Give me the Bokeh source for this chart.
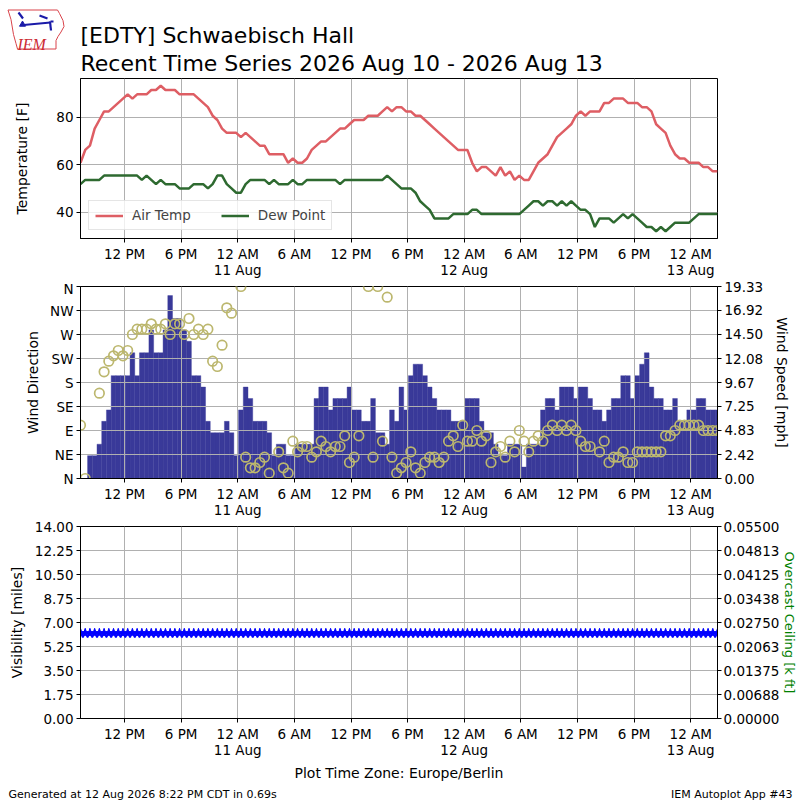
import pandas as pd
from bokeh.plotting import figure
from bokeh.layouts import column
from bokeh.models import Range1d, LinearAxis, FixedTicker, Legend, LegendItem
from bokeh.embed import file_html
from bokeh.resources import INLINE
from bokeh.core.properties import value

# ---------------- data ----------------
first_obs = "2026-08-10 07:20"
n_obs = 136

air_temp = [
    60.8, 66.2, 68, 75.2, 78.8, 82.4, 82.4, 84.2, 86, 87.8,
    89.6, 87.8, 89.6, 89.6, 89.6, 91.4, 91.4, 93.2, 91.4, 91.4,
    91.4, 89.6, 89.6, 89.6, 89.6, 87.8, 86, 84.2, 80.6, 78.8,
    75.2, 73.4, 73.4, 73.4, 71.6, 73.4, 71.6, 69.8, 68, 68,
    64.4, 64.4, 64.4, 64.4, 60.8, 62.6, 60.8, 60.8, 62.6, 66.2,
    68, 69.8, 69.8, 71.6, 73.4, 75.2, 75.2, 77, 78.8, 78.8,
    78.8, 80.6, 80.6, 80.6, 82.4, 84.2, 82.4, 84.2, 84.2, 82.4,
    82.4, 80.6, 80.6, 78.8, 77, 75.2, 73.4, 71.6, 69.8, 68,
    66.2, 66.2, 66.2, 60.8, 57.2, 59, 59, 57.2, 55.4, 59,
    55.4, 57.2, 53.6, 55.4, 53.6, 53.6, 57.2, 60.8, 62.6, 64.4,
    68, 71.6, 73.4, 75.2, 77, 80.6, 82.4, 80.6, 82.4, 82.4,
    82.4, 86, 86, 87.8, 87.8, 87.8, 86, 86, 86, 84.2,
    84.2, 82.4, 77, 75.2, 73.4, 68, 64.4, 62.6, 62.6, 60.8,
    60.8, 60.8, 59, 59, 57.2, 57.2,
]

dew_point = [
    51.8, 53.6, 53.6, 53.6, 53.6, 55.4, 55.4, 55.4, 55.4, 55.4,
    55.4, 55.4, 55.4, 53.6, 55.4, 53.6, 51.8, 53.6, 51.8, 51.8,
    51.8, 50, 50, 50, 51.8, 51.8, 51.8, 50, 51.8, 55.4,
    55.4, 51.8, 50, 48.2, 48.2, 51.8, 53.6, 53.6, 53.6, 53.6,
    51.8, 53.6, 51.8, 51.8, 51.8, 53.6, 51.8, 51.8, 53.6, 53.6,
    53.6, 53.6, 53.6, 53.6, 53.6, 51.8, 53.6, 53.6, 53.6, 53.6,
    53.6, 53.6, 53.6, 53.6, 53.6, 55.4, 53.6, 51.8, 50, 50,
    50, 48.2, 44.6, 42.8, 41, 37.4, 37.4, 37.4, 37.4, 39.2,
    39.2, 39.2, 39.2, 41, 41, 39.2, 39.2, 39.2, 39.2, 39.2,
    39.2, 39.2, 39.2, 39.2, 41, 42.8, 44.6, 44.6, 42.8, 44.6,
    44.6, 42.8, 44.6, 42.8, 44.6, 42.8, 41, 41, 39.2, 33.8,
    37.4, 37.4, 37.4, 35.6, 37.4, 39.2, 37.4, 39.2, 37.4, 35.6,
    33.8, 33.8, 32, 33.8, 32, 33.8, 35.6, 35.6, 35.6, 35.6,
    37.4, 39.2, 39.2, 39.2, 39.2, 39.2,
]

# wind speed in knots (plotted in mph)
wind_kt = [
    0, 0, 2, 2, 3, 5, 6, 9, 9, 9,
    9, 11, 9, 11, 11, 13, 11, 11, 13, 16,
    14, 14, 13, 12, 9, 9, 8, 5, 4, 4,
    4, 5, 4, 2, 6, 8, 7, 5, 5, 5,
    4, 2, 3, 3, 2, 2, 3, 3, 3, 3,
    7, 8, 8, 6, 7, 7, 7, 8, 6, 6,
    5, 5, 7, 4, 4, 3, 6, 5, 8, 6,
    9, 10, 10, 9, 8, 7, 6, 6, 6, 5,
    5, 5, 7, 7, 7, 5, 4, 4, 3, 2,
    2, 3, 3, 3, 1, 3, 3, 3, 6, 7,
    7, 6, 8, 8, 8, 7, 8, 8, 7, 6,
    6, 5, 6, 7, 7, 9, 9, 7, 9, 10,
    11, 8, 7, 7, 6, 6, 7, 5, 5, 6,
    6, 7, 7, 6, 6, 6,
]

nan = float("nan")
wind_dir = [
    100, 0, nan, nan, 160, 200, 220, 230, 240, 230,
    240, 270, 280, 280, 280, 290, 280, 280, 290, 270,
    290, 290, 270, 300, 270, 280, 270, 280, 220, 210,
    250, 320, 310, nan, 360, 40, 20, 20, 30, 40,
    10, nan, 50, 20, 10, 70, 50, 60, 60, 40,
    50, 70, 60, 50, 60, 60, 80, 30, 40, 80,
    nan, 360, 40, 360, 70, 340, 40, 10, 20, 30,
    50, 20, 10, 30, 40, 40, 30, 40, 70, 80,
    60, 100, 70, 70, 90, 70, 80, 30, 50, 60,
    40, 70, 50, 90, 70, 50, 70, 80, 70, 90,
    100, 90, 100, 90, 100, 90, 70, 60, 60, nan,
    50, 70, 30, 40, 40, 50, 30, 30, 50, 50,
    50, 50, 50, 50, 80, 80, 90, 100, 100, 100,
    100, 100, 90, 90, 90, 90,
]

visibility = [
    6.21, 6.21, 6.21, 6.21, 6.21, 6.21, 6.21, 6.21, 6.21, 6.21,
    6.21, 6.21, 6.21, 6.21, 6.21, 6.21, 6.21, 6.21, 6.21, 6.21,
    6.21, 6.21, 6.21, 6.21, 6.21, 6.21, 6.21, 6.21, 6.21, 6.21,
    6.21, 6.21, 6.21, 6.21, 6.21, 6.21, 6.21, 6.21, 6.21, 6.21,
    6.21, 6.21, 6.21, 6.21, 6.21, 6.21, 6.21, 6.21, 6.21, 6.21,
    6.21, 6.21, 6.21, 6.21, 6.21, 6.21, 6.21, 6.21, 6.21, 6.21,
    6.21, 6.21, 6.21, 6.21, 6.21, 6.21, 6.21, 6.21, 6.21, 6.21,
    6.21, 6.21, 6.21, 6.21, 6.21, 6.21, 6.21, 6.21, 6.21, 6.21,
    6.21, 6.21, 6.21, 6.21, 6.21, 6.21, 6.21, 6.21, 6.21, 6.21,
    6.21, 6.21, 6.21, 6.21, 6.21, 6.21, 6.21, 6.21, 6.21, 6.21,
    6.21, 6.21, 6.21, 6.21, 6.21, 6.21, 6.21, 6.21, 6.21, 6.21,
    6.21, 6.21, 6.21, 6.21, 6.21, 6.21, 6.21, 6.21, 6.21, 6.21,
    6.21, 6.21, 6.21, 6.21, 6.21, 6.21, 6.21, 6.21, 6.21, 6.21,
    6.21, 6.21, 6.21, 6.21, 6.21, 6.21,
]

tick_times = [
    "2026-08-10 12:00", "2026-08-10 18:00", "2026-08-11 00:00", "2026-08-11 06:00",
    "2026-08-11 12:00", "2026-08-11 18:00", "2026-08-12 00:00", "2026-08-12 06:00",
    "2026-08-12 12:00", "2026-08-12 18:00", "2026-08-13 00:00",
]
tick_labels = [
    "12 PM", "6 PM", "12 AM\n11 Aug", "6 AM", "12 PM", "6 PM", "12 AM\n12 Aug",
    "6 AM", "12 PM", "6 PM", "12 AM\n13 Aug",
]
temp_ticks = [40, 60, 80]
dir_ticks = [0, 45, 90, 135, 180, 225, 270, 315, 360]
dir_labels = ["N", "NE", "E", "SE", "S", "SW", "W", "NW", "N"]
speed_max = 19.33
speed_ticks = [0, 2.416, 4.833, 7.249, 9.665, 12.081, 14.498, 16.914, 19.33]
speed_labels = ["0.00", "2.42", "4.83", "7.25", "9.67", "12.08", "14.50", "16.92", "19.33"]
vis_ticks = [0, 1.75, 3.5, 5.25, 7.0, 8.75, 10.5, 12.25, 14.0]
vis_labels = ["0.00", "1.75", "3.50", "5.25", "7.00", "8.75", "10.50", "12.25", "14.00"]
ceil_max = 0.055
ceil_ticks = [0, 0.006875, 0.01375, 0.020625, 0.0275, 0.034375, 0.04125, 0.048125, 0.055]
ceil_labels = ["0.00000", "0.00688", "0.01375", "0.02063", "0.02750", "0.03438",
               "0.04125", "0.04813", "0.05500"]

title_1 = "[EDTY] Schwaebisch Hall"
title_2 = "Recent Time Series 2026 Aug 10 - 2026 Aug 13"
footer_left = "Generated at 12 Aug 2026 8:22 PM CDT in 0.69s"
footer_right = "IEM Autoplot App #43"

# ---------------- derived ----------------
times = pd.date_range(first_obs, periods=n_obs, freq="30min")
wind_mph = [k * 1.15078 for k in wind_kt]
tick_ms = [int(pd.Timestamp(t).value // 10**6) for t in tick_times]
x_overrides = dict(zip(tick_ms, tick_labels))

FONT = "DejaVu Sans"
W = 800
LB, RB = 80, 80
TEMP_C = "#de5e64"
DEW_C = "#2e6a30"
BAR_C = "#393999"
DIR_C = "#bcb76e"
GRID_C = "#b0b0b0"
FRAME_H = 192  # frame height of the wind and visibility panels

xr = Range1d(times[0], times[-1])


def style(p):
    p.background_fill_color = "white"
    p.border_fill_color = "white"
    p.outline_line_color = "black"
    p.outline_line_width = 1
    p.grid.grid_line_color = GRID_C
    p.grid.grid_line_width = 1
    for ax in list(p.xaxis) + list(p.yaxis):
        ax.axis_line_color = "black"
        ax.major_tick_out = 4
        ax.major_tick_in = 0
        ax.minor_tick_line_color = None
        ax.major_label_text_font = FONT
        ax.major_label_text_font_size = "13.5px"
        ax.major_label_text_color = "black"
        ax.major_label_text_line_height = 1.0
        ax.major_label_standoff = 3
        ax.axis_label_text_font = FONT
        ax.axis_label_text_font_size = "14px"
        ax.axis_label_text_font_style = "normal"
        ax.axis_label_text_color = "black"


def time_axis(p):
    t = FixedTicker(ticks=tick_ms)
    p.xaxis.ticker = t
    p.xgrid.ticker = t
    p.xaxis.major_label_overrides = x_overrides


def blank(h, y0):
    f = figure(width=W, height=h, x_range=Range1d(0, W), y_range=Range1d(y0 + h, y0),
               toolbar_location=None, output_backend="svg", min_border=0,
               x_axis_location=None, y_axis_location=None)
    f.grid.visible = False
    f.outline_line_color = None
    f.background_fill_color = "white"
    f.border_fill_color = "white"
    f.frame_align = False
    return f


# ---------------- header ----------------
hdr = blank(76, 0)
hdr.text(x=[80], y=[35], text=[title_1], text_font=value(FONT), text_font_size="22px",
         text_baseline="alphabetic", text_color="black")
hdr.text(x=[80], y=[63], text=[title_2], text_font=value(FONT), text_font_size="22px",
         text_baseline="alphabetic", text_color="black")
# IEM logo (Iowa outline, weather vane, letters)
logo_x = [7.5, 57, 59, 62.5, 63.5, 60.5, 57.5, 55.5, 55.5, 17, 15.5, 13, 10.5, 7.5]
logo_y = [9.5, 9.5, 13, 20, 26, 31.5, 36, 40, 48.5, 48.5, 43, 34, 19, 9.5]
hdr.patch(logo_x, logo_y, fill_color="white", line_color="#d9434b", line_width=1)
hdr.multi_line(xs=[[23, 50], [49.5, 50.5], [18, 22.5], [39, 47], [50, 53]],
               ys=[[24.5, 22], [21, 30], [12, 18], [15, 18], [21, 21]],
               line_color="#1a1aa8", line_width=2.2)
hdr.scatter([22], [24], marker="triangle", size=6, color="#1a1aa8")
hdr.text(x=[17], y=[44], text=["IEM"], text_font=value("Liberation Serif"), text_font_size="16px",
         text_font_style="italic", text_color="#cc2a33", text_baseline="alphabetic")

# ---------------- panel 1: temperature ----------------
p1 = figure(width=W, height=204, x_range=xr, y_range=Range1d(28.94, 96.26),
            x_axis_type="datetime", toolbar_location=None, output_backend="svg",
            min_border_left=LB, min_border_right=RB, min_border_top=2, min_border_bottom=42)
r_air = p1.line(times, air_temp, line_color=TEMP_C, line_width=2.5)
r_dew = p1.line(times, dew_point, line_color=DEW_C, line_width=2.5)
p1.yaxis.ticker = FixedTicker(ticks=temp_ticks)
p1.ygrid.ticker = FixedTicker(ticks=temp_ticks)
p1.yaxis.axis_label = "Temperature [F]"
time_axis(p1)
style(p1)
p1.yaxis.axis_label_standoff = 23
leg = Legend(items=[LegendItem(label="Air Temp", renderers=[r_air]),
                    LegendItem(label="Dew Point", renderers=[r_dew])],
             location="bottom_left", orientation="horizontal", margin=8, padding=6,
             spacing=30, glyph_width=28, glyph_height=15, label_standoff=9,
             label_text_font=FONT, label_text_font_size="13.5px",
             border_line_color="#cccccc", background_fill_alpha=0.8)
p1.add_layout(leg)

# ---------------- panel 2: wind ----------------
p2 = figure(width=W, height=6 + FRAME_H + 42, x_range=xr, y_range=Range1d(0, 360),
            x_axis_type="datetime", toolbar_location=None, output_backend="svg",
            min_border_left=LB, min_border_right=RB, min_border_top=6, min_border_bottom=42)
p2.extra_y_ranges = {"speed": Range1d(0, speed_max)}
bars = p2.vbar(x=times, top=wind_mph, width=30 * 60 * 1000, y_range_name="speed",
               fill_color=BAR_C, line_color=BAR_C, line_width=0.4)
bars.level = "image"
p2.scatter(times, wind_dir, marker="circle", size=9.5, fill_color=None,
           line_color=DIR_C, line_width=1.7)
p2.yaxis.ticker = FixedTicker(ticks=dir_ticks)
p2.ygrid.ticker = FixedTicker(ticks=dir_ticks)
p2.yaxis.major_label_overrides = dict(zip(dir_ticks, dir_labels))
p2.yaxis.axis_label = "Wind Direction"
ax_speed = LinearAxis(y_range_name="speed", ticker=FixedTicker(ticks=speed_ticks),
                      major_label_overrides=dict(zip(speed_ticks, speed_labels)),
                      axis_label="Wind Speed [mph]")
p2.add_layout(ax_speed, "right")
time_axis(p2)
style(p2)
p2.yaxis[0].axis_label_standoff = 6
ax_speed.axis_label_standoff = 8

# ---------------- panel 3: visibility ----------------
p3 = figure(width=W, height=6 + FRAME_H + 65, x_range=xr, y_range=Range1d(0, 14),
            x_axis_type="datetime", toolbar_location=None, output_backend="svg",
            min_border_left=LB, min_border_right=RB, min_border_top=6, min_border_bottom=65)
p3.extra_y_ranges = {"ceil": Range1d(0, ceil_max)}
p3.line(times, visibility, line_color="#0000ff", line_width=1.5)
p3.scatter(times, visibility, marker="star", size=10, fill_color="#0000ff", line_color="#0000ff")
p3.yaxis.ticker = FixedTicker(ticks=vis_ticks)
p3.ygrid.ticker = FixedTicker(ticks=vis_ticks)
p3.yaxis.major_label_overrides = dict(zip(vis_ticks, vis_labels))
p3.yaxis.axis_label = "Visibility [miles]"
ax_ceil = LinearAxis(y_range_name="ceil", ticker=FixedTicker(ticks=ceil_ticks),
                     major_label_overrides=dict(zip(ceil_ticks, ceil_labels)),
                     axis_label="Overcast Ceiling [k ft]")
p3.add_layout(ax_ceil, "right")
time_axis(p3)
p3.xaxis.axis_label = "Plot Time Zone: Europe/Berlin"
style(p3)
p3.yaxis[0].axis_label_standoff = 7
p3.xaxis.axis_label_standoff = 4
ax_ceil.axis_label_text_color = "#008000"
ax_ceil.axis_label_text_font_size = "13px"
ax_ceil.axis_label_text_line_height = 1.0
ax_ceil.axis_label_standoff = 0
ax_ceil.major_label_standoff = 2

# ---------------- footer ----------------
ftr = blank(17, 783)
ftr.text(x=[8], y=[794], text=[footer_left], text_font=value(FONT), text_font_size="11px",
         text_baseline="alphabetic", text_color="black")
ftr.text(x=[792], y=[794], text=[footer_right], text_font=value(FONT), text_font_size="11px",
         text_baseline="alphabetic", text_align="right", text_color="black")

layout = column(hdr, p1, p2, p3, ftr, spacing=0)
open("out.html", "w").write(file_html(layout, INLINE))
